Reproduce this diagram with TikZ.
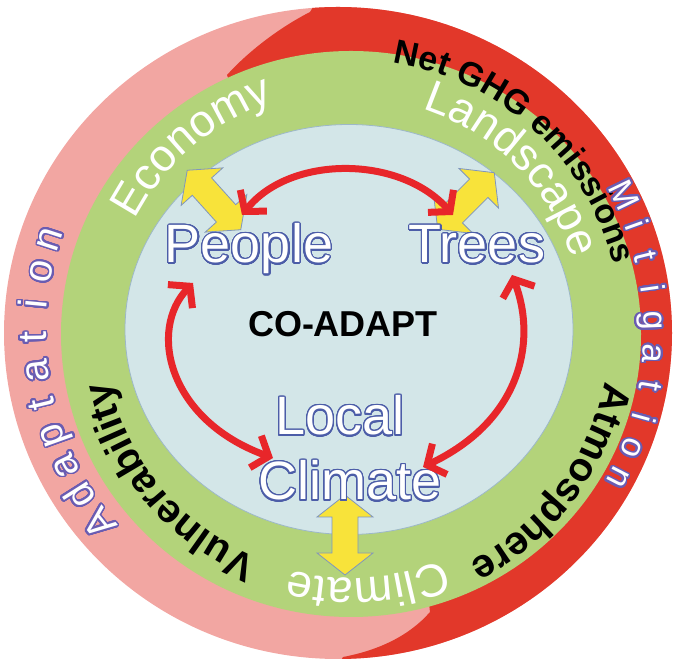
\documentclass[tikz,border=0pt]{standalone}
\usepackage{fontspec}
\setmainfont{Liberation Sans}
\usepackage{contour}
\usetikzlibrary{calc,decorations.text,arrows.meta}
\contourlength{1.4pt}
\contournumber{32}
\definecolor{pinkc}{HTML}{F2A6A2}
\definecolor{redc}{HTML}{E2382A}
\definecolor{greenc}{HTML}{B3D37A}
\definecolor{bluec}{HTML}{D3E6E8}
\definecolor{bluedge}{HTML}{9DB8C8}
\definecolor{olblue}{HTML}{4C5DA8}
\definecolor{purp}{HTML}{6A5CB2}
\definecolor{yel}{HTML}{F8E33A}
\definecolor{yelline}{HTML}{7F96BE}
\definecolor{redarr}{HTML}{E8262A}
\tikzset{
  outl/.style={font=\fontsize{54}{64}\selectfont, text=white, inner sep=0pt, anchor=base},
  ringletter/.style={text=white, inner sep=0pt, anchor=base},
  redarrow/.style={draw=redarr, line width=7pt,
    {Straight Barb[length=14pt,width=34pt,line width=7pt]}-{Straight Barb[length=14pt,width=34pt,line width=7pt]}},
  yarrow/.style={fill=yel, draw=yelline, line width=0.8pt, line join=miter}
}
\newcommand\crvtext[5]{%
  \path[decorate, decoration={text along path, text align=center, text={|#4|#5}}]
    ($(cg)+({#1+#3}:#2)$) arc[start angle={#1+#3}, end angle={#1-#3}, radius=#2];}
\newcommand\yarr[4]{%
  \begin{scope}[shift={(#1,#2)},rotate=#3]
  \filldraw[yarrow] (-#4,0) -- ({-#4+22},28) -- ({-#4+22},13) -- ({#4-22},13) -- ({#4-22},28)
    -- (#4,0) -- ({#4-22},-28) -- ({#4-22},-13) -- ({-#4+22},-13) -- ({-#4+22},-28) -- cycle;
  \end{scope}}
\begin{document}
\begin{tikzpicture}[x=1pt,y=1pt]
\useasboundingbox (0,0) rectangle (675,660);
\coordinate (co) at (338,327);
\coordinate (cg) at (350,329);
% outer ring
\fill[pinkc] (co) ellipse [x radius=334, y radius=326];
\begin{scope}
  \clip (co) ellipse [x radius=334, y radius=326];
  \fill[redc] (330,680) -- (310,648) .. controls (275,630) and (245,605) .. (227,585)
    .. controls (260,500) and (420,150) .. (430,48)
    .. controls (410,25) and (380,10) .. (343,3) -- (330,-20) -- (720,-20) -- (720,680) -- cycle;
\end{scope}
% green and blue
\fill[greenc] (351,326) ellipse [x radius=290, y radius=283];
\filldraw[fill=bluec, draw=bluedge, line width=0.8pt] (349,330.5) ellipse [x radius=224, y radius=205];
% ring texts
\crvtext{130.5}{242}{70}{\color{white}\fontsize{45}{54}\selectfont}{Economy}
\crvtext{45}{234}{70}{\color{white}\fontsize{45}{54}\selectfont}{Landscape}
\crvtext{47.5}{272}{75}{\color{black}\bfseries\fontsize{34}{40}\selectfont}{Net GHG emissions}
\crvtext{-37}{260}{70}{\color{black}\bfseries\fontsize{40}{48}\selectfont}{Atmosphere}
\crvtext{274}{247}{60}{\color{white}\fontsize{46}{54}\selectfont}{Climate}
\crvtext{219.8}{245}{70}{\color{black}\bfseries\fontsize{40}{48}\selectfont}{Vulnerability}
% outer ring letters
\begingroup
\contourlength{1.7pt}
\foreach \ch [count=\i from 0] in {A,d,a,p,t,a,t,i,o,n}{
  \pgfmathsetmacro\ang{218.6-\i*6.29}
  \node[ringletter, font=\fontsize{40}{44}\selectfont, rotate=\ang-90] (ad\i) at ($(co)+(\ang:292)$) {\contour{purp}{\ch}};
}
\foreach \ch [count=\i from 0] in {M,i,t,i,g,a,t,i,o,n}{
  \pgfmathsetmacro\ang{25.8-\i*5.9}
  \node[ringletter, font=\fontsize{34}{38}\selectfont, rotate=\ang-90] (mi\i) at ($(co)+(\ang:306)$) {\contour{purp}{\ch}};
}
\endgroup
% yellow block arrows
\yarr{214}{460}{-48}{40}
\yarr{466}{459}{45}{40}
\yarr{345}{125}{90}{40}
% central texts
\node[outl] (people) at (249,397) {\contour{olblue}{People}};
\node[outl] (trees) at (477,397) {\contour{olblue}{Trees}};
\node[outl] (local) at (340,225) {\contour{olblue}{Local}};
\node[outl] (climate) at (350,160) {\contour{olblue}{Climate}};
\node[font=\bfseries\fontsize{36}{42}\selectfont, anchor=base, inner sep=0pt] (coadapt) at (343,323) {CO-ADAPT};
% red arrows
\coordinate (a1s) at (242,445);
\coordinate (a1e) at (453,445);
\coordinate (a2s) at (193,377);
\coordinate (a2e) at (273,202);
\coordinate (a3s) at (512,385);
\coordinate (a3e) at (423,193);
\draw[redarrow] (a1s) .. controls (290,505) and (400,505) .. (a1e);
\draw[redarrow] (a2s) .. controls (148,330) and (168,240) .. (a2e);
\draw[redarrow] (a3s) .. controls (537,320) and (522,240) .. (a3e);
\end{tikzpicture}
\end{document}
